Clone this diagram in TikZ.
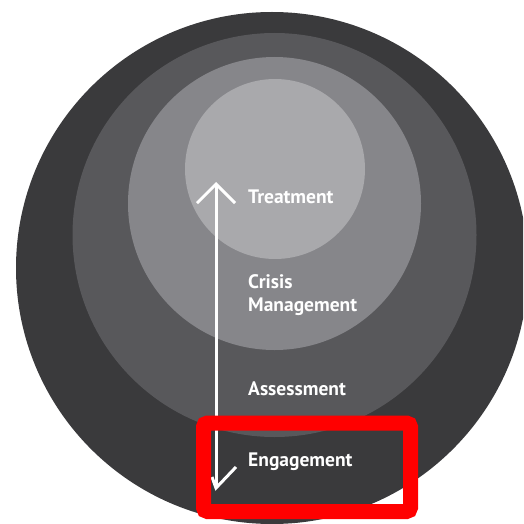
\documentclass[tikz,border=0pt]{standalone}
\usepackage{fontspec}
\setmainfont{PT Sans}
\usetikzlibrary{arrows.meta}
\definecolor{ringA}{HTML}{3A3A3C}
\definecolor{ringB}{HTML}{58585B}
\definecolor{ringC}{HTML}{86868A}
\definecolor{ringD}{HTML}{A9A9AC}
\definecolor{markred}{HTML}{FF0000}
\tikzset{
  lbl/.style={anchor=base west, text=white, inner sep=0pt, font=\fontsize{19.5}{23}\selectfont\bfseries, align=left},
  flow/.style={draw=white, line width=3pt},
}
\begin{document}
\begin{tikzpicture}[x=1pt,y=-1pt]
\useasboundingbox (0,0) rectangle (523,524);
\fill[white] (0,0) rectangle (523,524);
\begin{scope}
\clip (0,0) rectangle (523,524);
\fill[ringA] (272,268) circle (256);
\fill[ringB] (274.5,235) circle (202);
\fill[ringC] (274.5,203.5) circle (146.5);
\fill[ringD] (275,169) circle (90);
\end{scope}
\coordinate (top) at (216,182);
\coordinate (bot) at (216,488);
\coordinate (barbL) at (212,477);
\coordinate (barbR) at (236,467);
\draw[flow, {Straight Barb[length=19pt,width=38pt]}-] (top) -- (bot);
\draw[flow, line join=miter] (barbL) -- (bot) -- (barbR);
\node[lbl] (treat) at (248,203) {Treatment};
\node[lbl] (crisis) at (248,311) {Crisis\\Management};
\node[lbl] (assess) at (248,395) {Assessment};
\node[lbl] (engage) at (248,466) {Engagement};
\draw[markred, line width=15pt, rounded corners=4pt] (203.5,423) rectangle (410.5,511.5);
\end{tikzpicture}
\end{document}
